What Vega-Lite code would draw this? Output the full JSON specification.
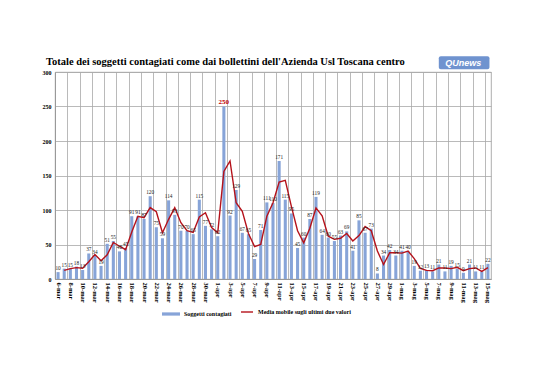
{
  "$schema": "https://vega.github.io/schema/vega-lite/v6.json",
  "width": 436,
  "height": 207,
  "autosize": {"type": "none"},
  "padding": {"left": 55, "top": 72, "right": 47, "bottom": 101},
  "background": "white",
  "title": {
    "text": "Totale dei soggetti contagiati come dai bollettini dell'Azienda Usl Toscana centro",
    "anchor": "start",
    "frame": "group",
    "dx": -9,
    "offset": -11,
    "font": "Liberation Serif",
    "fontSize": 10.5,
    "fontWeight": "bold",
    "color": "black"
  },
  "data": {
    "values": [
      {"d": "6-mar", "v": 10, "ma": null},
      {"d": "7-mar", "v": 15, "ma": 12.5},
      {"d": "8-mar", "v": 15, "ma": 15},
      {"d": "9-mar", "v": 18, "ma": 16.5},
      {"d": "10-mar", "v": 13, "ma": 15.5},
      {"d": "11-mar", "v": 37, "ma": 25},
      {"d": "12-mar", "v": 34, "ma": 35.5},
      {"d": "13-mar", "v": 19, "ma": 26.5},
      {"d": "14-mar", "v": 51, "ma": 35},
      {"d": "15-mar", "v": 55, "ma": 53},
      {"d": "16-mar", "v": 40, "ma": 47.5},
      {"d": "17-mar", "v": 45, "ma": 42.5},
      {"d": "18-mar", "v": 91, "ma": 68},
      {"d": "19-mar", "v": 91, "ma": 91},
      {"d": "20-mar", "v": 87, "ma": 89},
      {"d": "21-mar", "v": 120, "ma": 103.5},
      {"d": "22-mar", "v": 75, "ma": 97.5},
      {"d": "23-mar", "v": 59, "ma": 67},
      {"d": "24-mar", "v": 114, "ma": 86.5},
      {"d": "25-mar", "v": 93, "ma": 103.5},
      {"d": "26-mar", "v": 70, "ma": 81.5},
      {"d": "27-mar", "v": 70, "ma": 70},
      {"d": "28-mar", "v": 65, "ma": 67.5},
      {"d": "29-mar", "v": 115, "ma": 90},
      {"d": "30-mar", "v": 77, "ma": 96},
      {"d": "31-mar", "v": 72, "ma": 74.5},
      {"d": "1-apr", "v": 62, "ma": 67},
      {"d": "2-apr", "v": 250, "ma": 156},
      {"d": "3-apr", "v": 92, "ma": 171},
      {"d": "4-apr", "v": 129, "ma": 110.5},
      {"d": "5-apr", "v": 67, "ma": 98},
      {"d": "6-apr", "v": 65, "ma": 66},
      {"d": "7-apr", "v": 29, "ma": 47},
      {"d": "8-apr", "v": 71, "ma": 50},
      {"d": "9-apr", "v": 111, "ma": 91},
      {"d": "10-apr", "v": 110, "ma": 110.5},
      {"d": "11-apr", "v": 171, "ma": 140.5},
      {"d": "12-apr", "v": 115, "ma": 143},
      {"d": "13-apr", "v": 95, "ma": 105},
      {"d": "14-apr", "v": 45, "ma": 70},
      {"d": "15-apr", "v": 60, "ma": 52.5},
      {"d": "16-apr", "v": 87, "ma": 73.5},
      {"d": "17-apr", "v": 119, "ma": 103},
      {"d": "18-apr", "v": 64, "ma": 91.5},
      {"d": "19-apr", "v": 60, "ma": 62},
      {"d": "20-apr", "v": 55, "ma": 57.5},
      {"d": "21-apr", "v": 63, "ma": 59},
      {"d": "22-apr", "v": 69, "ma": 66},
      {"d": "23-apr", "v": 41, "ma": 55},
      {"d": "24-apr", "v": 85, "ma": 63},
      {"d": "25-apr", "v": 67, "ma": 76},
      {"d": "26-apr", "v": 73, "ma": 70},
      {"d": "27-apr", "v": 8, "ma": 40.5},
      {"d": "28-apr", "v": 34, "ma": 21},
      {"d": "29-apr", "v": 42, "ma": 38},
      {"d": "30-apr", "v": 34, "ma": 38},
      {"d": "1-mag", "v": 41, "ma": 37.5},
      {"d": "2-mag", "v": 40, "ma": 40.5},
      {"d": "3-mag", "v": 19, "ma": 29.5},
      {"d": "4-mag", "v": 12, "ma": 15.5},
      {"d": "5-mag", "v": 13, "ma": 12.5},
      {"d": "6-mag", "v": 11, "ma": 12},
      {"d": "7-mag", "v": 21, "ma": 16},
      {"d": "8-mag", "v": 11, "ma": 16},
      {"d": "9-mag", "v": 19, "ma": 15},
      {"d": "10-mag", "v": 15, "ma": 17},
      {"d": "11-mag", "v": 9, "ma": 12},
      {"d": "12-mag", "v": 21, "ma": 15},
      {"d": "13-mag", "v": 11, "ma": 16},
      {"d": "14-mag", "v": 11, "ma": 11},
      {"d": "15-mag", "v": 22, "ma": 16.5}
    ]
  },
  "encoding": {
    "x": {
      "field": "d",
      "type": "ordinal",
      "sort": null,
      "scale": {"paddingInner": 0.5, "paddingOuter": 0.25},
      "axis": {
        "title": null,
        "values": ["6-mar","8-mar","10-mar","12-mar","14-mar","16-mar","18-mar","20-mar","22-mar","24-mar","26-mar","28-mar","30-mar","1-apr","3-apr","5-apr","7-apr","9-apr","11-apr","13-apr","15-apr","17-apr","19-apr","21-apr","23-apr","25-apr","27-apr","29-apr","1-mag","3-mag","5-mag","7-mag","9-mag","11-mag","13-mag","15-mag"],
        "labelAngle": 90,
        "labelAlign": "left",
        "labelBaseline": "middle",
        "labelFont": "Liberation Serif",
        "labelFontWeight": "bold",
        "labelFontSize": 6.5,
        "labelColor": "black",
        "labelOverlap": false,
        "labelPadding": 3,
        "grid": true,
        "gridColor": "#a8a8a8",
        "gridWidth": 0.8,
        "bandPosition": 0.5,
        "tickOffset": -3.07,
        "labelOffset": 3.07,
        "ticks": false,
        "domainColor": "#999999"
      }
    }
  },
  "layer": [
    {
      "mark": {"type": "bar"},
      "encoding": {
        "y": {
          "field": "v",
          "type": "quantitative",
          "scale": {"domain": [0, 300], "nice": false},
          "axis": {"title": null}
        },
        "fill": {
          "datum": "Soggetti contagiati",
          "type": "nominal",
          "scale": {"range": ["#87a4d8"]},
          "legend": {
            "orient": "none",
            "legendX": 107,
            "legendY": 233,
            "title": null,
            "symbolType": "M-1,-0.18H1V0.18H-1Z",
            "symbolSize": 324,
            "symbolStrokeWidth": 0,
            "labelFont": "Liberation Serif",
            "labelFontSize": 6,
            "labelFontWeight": "bold",
            "labelColor": "black"
          }
        }
      }
    },
    {
      "mark": {"type": "line", "strokeWidth": 1.4},
      "encoding": {
        "y": {"field": "ma", "type": "quantitative", "axis": {"title": null}},
        "stroke": {
          "datum": "Media mobile sugli ultimi due valori",
          "type": "nominal",
          "scale": {"range": ["#b5121b"]},
          "legend": {
            "orient": "none",
            "legendX": 185,
            "legendY": 233,
            "title": null,
            "symbolType": "stroke",
            "symbolSize": 144,
            "symbolStrokeWidth": 1.4,
            "labelFont": "Liberation Serif",
            "labelFontSize": 6,
            "labelFontWeight": "bold",
            "labelColor": "black"
          }
        }
      }
    },
    {
      "transform": [{"filter": "datum.v < 250"}],
      "mark": {"type": "text", "dy": -4, "font": "Liberation Serif", "fontSize": 5.3, "color": "#222222"},
      "encoding": {
        "y": {"field": "v", "type": "quantitative", "axis": {"title": null}},
        "text": {"field": "v", "type": "quantitative"}
      }
    },
    {
      "transform": [{"filter": "datum.v >= 250"}],
      "mark": {"type": "text", "dy": -5, "font": "Liberation Serif", "fontSize": 7, "fontWeight": "bold", "color": "#c00000"},
      "encoding": {
        "y": {"field": "v", "type": "quantitative", "axis": {"title": null}},
        "text": {"field": "v", "type": "quantitative"}
      }
    },
    {
      "data": {"values": [{"logo": "QUnews"}]},
      "mark": {"type": "rect", "fill": "#6f93cf", "cornerRadius": 2, "clip": false},
      "encoding": {
        "x": {"datum": "7-mag"},
        "x2": {"datum": "15-mag", "bandPosition": 1},
        "y": {"datum": 304, "axis": {"title": null}},
        "y2": {"datum": 323}
      }
    },
    {
      "data": {"values": [{"logo": "QUnews"}]},
      "mark": {"type": "text", "font": "Liberation Sans", "fontSize": 9, "fontWeight": "bold", "fontStyle": "italic", "color": "white", "clip": false},
      "encoding": {
        "x": {"datum": "11-mag"},
        "y": {"datum": 313.5, "axis": {"title": null}},
        "text": {"field": "logo"}
      }
    }
  ],
  "config": {
    "view": {"stroke": "#999999", "strokeWidth": 0.8},
    "axisY": {
      "tickCount": 6,
      "labelFont": "Liberation Serif",
      "labelFontWeight": "bold",
      "labelFontSize": 6,
      "labelColor": "black",
      "labelOverlap": false,
      "ticks": false,
      "labelPadding": 4,
      "gridColor": "#a8a8a8",
      "gridWidth": 0.8,
      "domainColor": "#999999"
    }
  }
}
